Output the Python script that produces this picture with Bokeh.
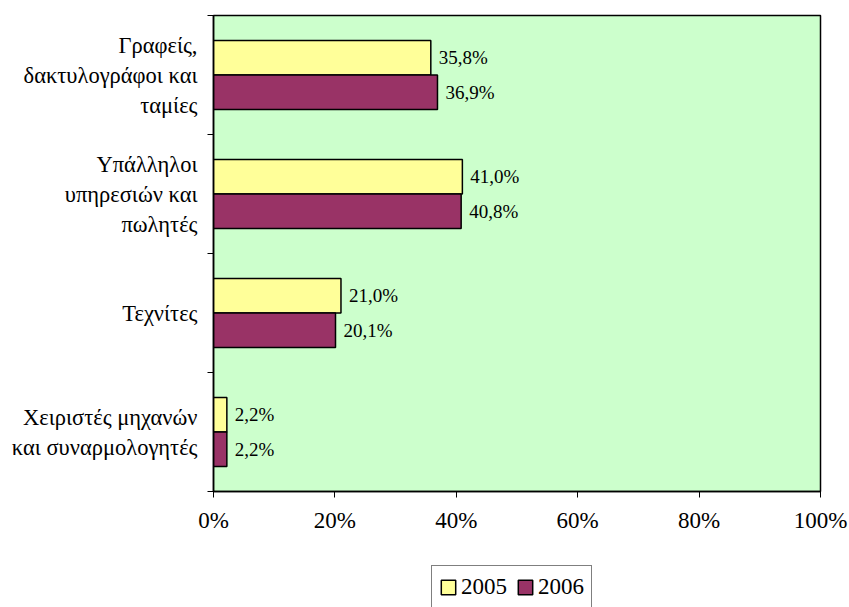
from bokeh.plotting import figure
from bokeh.layouts import column
from bokeh.models import (Range1d, FixedTicker, LinearAxis, Legend, LegendItem,
                          ColumnDataSource)
from bokeh.core.properties import value
from bokeh.embed import file_html
from bokeh.resources import INLINE

categories = ["Γραφείς,\nδακτυλογράφοι και\nταμίες",
              "Υπάλληλοι\nυπηρεσιών και\nπωλητές",
              "Τεχνίτες",
              "Χειριστές μηχανών\nκαι συναρμολογητές"]
years = ["2005", "2006"]
values_2005 = [35.8, 41.0, 21.0, 2.2]
values_2006 = [36.9, 40.8, 20.1, 2.2]
x_ticks = [0, 20, 40, 60, 80, 100]

FONT = "Liberation Serif"
colors = {"2005": "#FFFF99", "2006": "#993366"}
bar_h = 0.29
offsets = {"2005": -0.145, "2006": 0.145}
series = (("2005", values_2005), ("2006", values_2006))

p = figure(width=849, height=545, output_backend="svg", toolbar_location=None,
           x_range=Range1d(0, 100), y_range=Range1d(len(categories), 0),
           min_border_left=213, min_border_right=29, min_border_top=15,
           min_border_bottom=54)
p.border_fill_color = "white"
p.background_fill_color = "#CCFFCC"
p.outline_line_color = "black"
p.outline_line_width = 1.5
p.grid.visible = False

sources = {}
for yr, vals in series:
    ys = [i + 0.5 + offsets[yr] for i in range(len(categories))]
    labels = [f"{v:.1f}".replace(".", ",") + "%" for v in vals]
    src = ColumnDataSource(dict(y=ys, v=vals, lab=labels))
    sources[yr] = src
    p.hbar(y="y", left=0, right="v", height=bar_h, source=src,
           fill_color=colors[yr], line_color="black", line_width=1.5)
    p.text(x="v", y="y", text="lab", source=src, x_offset=8,
           text_align="left", text_baseline="middle",
           text_font=value(FONT), text_font_size="19px", text_color="black")

# x axis
xa = p.xaxis[0]
xa.ticker = FixedTicker(ticks=x_ticks)
xa.major_label_overrides = {t: f"{t}%" for t in x_ticks}
xa.minor_tick_line_color = None
xa.major_tick_out = 6
xa.major_tick_in = 0
xa.major_label_standoff = 10
xa.axis_line_color = "black"
xa.axis_line_width = 1.5
xa.major_tick_line_color = "black"
xa.major_label_text_font = FONT
xa.major_label_text_font_size = "23px"
xa.major_label_text_color = "black"

# y axis: boundary ticks
ya = p.yaxis[0]
ya.ticker = FixedTicker(ticks=list(range(len(categories) + 1)))
ya.major_label_overrides = {i: "" for i in range(len(categories) + 1)}
ya.major_label_text_font_size = "1px"
ya.major_label_standoff = 0
ya.minor_tick_line_color = None
ya.major_tick_out = 6
ya.major_tick_in = 0
ya.axis_line_color = "black"
ya.axis_line_width = 1.5

# y axis: category labels
centers = [i + 0.5 for i in range(len(categories))]
ly = LinearAxis(ticker=FixedTicker(ticks=centers),
                major_label_overrides={c: lab for c, lab in zip(centers, categories)})
ly.axis_line_color = None
ly.major_tick_line_color = None
ly.minor_tick_line_color = None
ly.major_label_standoff = 4
ly.major_label_text_font = FONT
ly.major_label_text_font_size = "22.5px"
ly.major_label_text_color = "black"
ly.major_label_text_align = "center"
ly.major_label_text_line_height = 1.2
p.add_layout(ly, "left")

# legend strip below the chart (its frame aligns with the chart's frame)
lp = figure(width=849, height=62, output_backend="svg", toolbar_location=None,
            x_range=Range1d(0, 100), y_range=Range1d(len(categories), 0),
            x_axis_location=None, y_axis_location=None,
            min_border_left=213, min_border_right=29,
            min_border_top=0, min_border_bottom=0)
lp.outline_line_color = None
lp.background_fill_color = "white"
lp.border_fill_color = "white"
lp.grid.visible = False
items = []
for yr, vals in series:
    # hidden copies of the bars, used only to draw the legend glyphs
    r = lp.hbar(y="y", left=0, right="v", height=bar_h, source=sources[yr],
                fill_color=colors[yr], line_color="black", line_width=1.5,
                visible=False)
    items.append(LegendItem(label=yr, renderers=[r]))

legend = Legend(items=items, orientation="horizontal", location=(218, -2))
legend.label_text_font = FONT
legend.label_text_font_size = "23px"
legend.label_text_color = "black"
legend.label_height = 28
legend.glyph_width = 18
legend.glyph_height = 18
legend.label_standoff = 4
legend.spacing = 9
legend.padding = 7
legend.margin = 0
legend.inactive_fill_alpha = 0
legend.click_policy = "none"
legend.border_line_color = "black"
legend.border_line_width = 1
legend.background_fill_color = "white"
legend.background_fill_alpha = 1
lp.add_layout(legend, "center")

layout = column(p, lp, spacing=0)
open("out.html", "w").write(file_html(layout, INLINE))
